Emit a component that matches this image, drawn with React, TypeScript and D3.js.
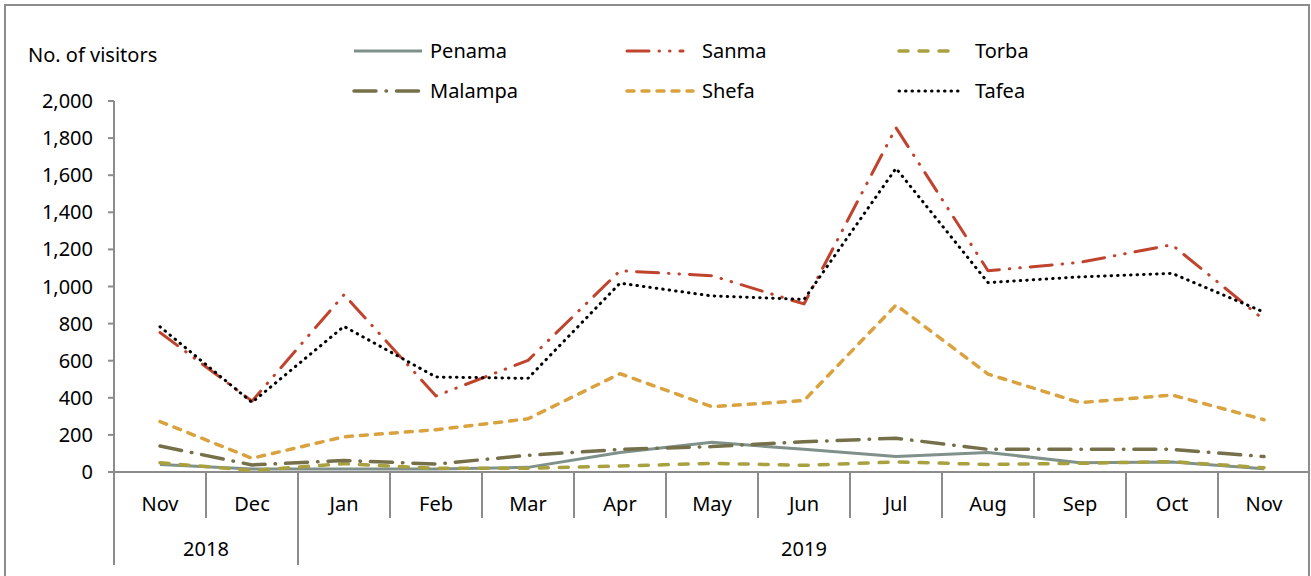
import React from 'react';
import * as d3 from 'd3';

// monthly visitor counts, Nov 2018 .. Nov 2019
const months = ['Nov', 'Dec', 'Jan', 'Feb', 'Mar', 'Apr', 'May', 'Jun', 'Jul', 'Aug', 'Sep', 'Oct', 'Nov'];
const years = [
  { label: '2018', count: 2 },
  { label: '2019', count: 11 },
];
const yTicks = [0, 200, 400, 600, 800, 1000, 1200, 1400, 1600, 1800, 2000];

const penama = [40, 16, 16, 16, 25, 105, 160, 122, 83, 105, 50, 54, 18];
const sanma = [752, 382, 956, 410, 602, 1085, 1058, 906, 1856, 1085, 1130, 1225, 820];
const torba = [50, 8, 45, 20, 20, 32, 47, 36, 54, 41, 47, 56, 23];
const malampa = [140, 38, 62, 43, 90, 122, 137, 163, 182, 122, 122, 122, 83];
const shefa = [272, 74, 190, 228, 287, 530, 352, 385, 900, 528, 374, 415, 282];
const tafea = [783, 375, 785, 512, 505, 1018, 949, 930, 1637, 1021, 1052, 1071, 862];

const series = [
  { name: 'Penama', values: penama, color: '#7f918a', dash: null, width: 3, key: 68 },
  { name: 'Sanma', values: sanma, color: '#c0432e', dash: '22 10 0.5 10 0.5 10', width: 3, key: 56 },
  { name: 'Torba', values: torba, color: '#a9a040', dash: '9 11', width: 3.5, key: 50 },
  { name: 'Malampa', values: malampa, color: '#76704a', dash: '22 10 0.5 10', width: 3.5, key: 68 },
  { name: 'Shefa', values: shefa, color: '#d9a23f', dash: '7 8', width: 3.5, key: 66 },
  { name: 'Tafea', values: tafea, color: '#000000', dash: '0.5 6', width: 3, key: 63 },
];

const W = 1311;
const H = 576;
const left = 114;
const right = 1310;
const top = 101;
const bottom = 472;
const font = '"Noto Sans", "Open Sans", sans-serif';
const axisColor = '#8c8c8c';

export default function App() {
  const x = d3.scaleBand<number>()
    .domain(months.map((_, i) => i))
    .range([left, right])
    .paddingInner(0)
    .paddingOuter(0);
  const y = d3.scaleLinear().domain([0, 2000]).range([bottom, top]);
  const fmt = d3.format(',');
  const bw = x.bandwidth();

  const line = d3.line<number>()
    .x((_, i) => (x(i) as number) + bw / 2)
    .y(d => y(d));

  // year group boundaries
  let acc = 0;
  const groups = years.map(g => {
    const start = acc;
    acc += g.count;
    return { ...g, x0: x(start) as number, x1: (x(start) as number) + g.count * bw };
  });
  const groupEdges = new Set(groups.map(g => g.x0));

  // legend layout (two rows of three)
  const legendCols = [354, 627, 899];
  const legendText = [430, 702, 975];
  const legendRows = [51, 91];

  return (
    <svg width={W} height={H} style={{ position: 'absolute', left: 0, top: 0, background: '#fff' }}>
      <rect x={5} y={5} width={1304} height={600} fill="none" stroke={axisColor} strokeWidth={2} />

      <text x={28} y={62} fontFamily={font} fontSize={20} fill="#000">No. of visitors</text>

      {/* y axis */}
      <line x1={left} x2={left} y1={top} y2={565} stroke={axisColor} strokeWidth={2} />
      {yTicks.map(t => (
        <g key={t}>
          <line x1={left - 6} x2={left} y1={y(t)} y2={y(t)} stroke={axisColor} strokeWidth={2} />
          <text x={93} y={y(t)} dy="0.35em" textAnchor="end" fontFamily={font} fontSize={20} fill="#000">
            {fmt(t)}
          </text>
        </g>
      ))}

      {/* x axis with month / year categories */}
      <line x1={left} x2={right} y1={bottom} y2={bottom} stroke={axisColor} strokeWidth={2} />
      {months.map((m, i) => {
        const bx = x(i) as number;
        return (
          <g key={i}>
            {i > 0 && !groupEdges.has(bx) && (
              <line x1={bx} x2={bx} y1={bottom} y2={518} stroke={axisColor} strokeWidth={2} />
            )}
            <text x={bx + bw / 2} y={504} dy="0.35em" textAnchor="middle" fontFamily={font} fontSize={20} fill="#000">
              {m}
            </text>
          </g>
        );
      })}
      {groups.map(g => (
        <g key={g.label}>
          <line x1={g.x0} x2={g.x0} y1={bottom} y2={565} stroke={axisColor} strokeWidth={2} />
          <text x={(g.x0 + g.x1) / 2} y={549} dy="0.35em" textAnchor="middle" fontFamily={font} fontSize={20} fill="#000">
            {g.label}
          </text>
        </g>
      ))}
      <line x1={right - 1} x2={right - 1} y1={bottom} y2={565} stroke={axisColor} strokeWidth={2} />

      {/* series lines */}
      {series.map(s => (
        <path
          key={s.name}
          d={line(s.values) ?? ''}
          fill="none"
          stroke={s.color}
          strokeWidth={s.width}
          strokeDasharray={s.dash ?? undefined}
          strokeLinecap={s.dash ? 'round' : 'butt'}
          strokeLinejoin="round"
        />
      ))}

      {/* legend */}
      {series.map((s, i) => {
        const lx = legendCols[i % 3];
        const ly = legendRows[Math.floor(i / 3)];
        return (
          <g key={s.name}>
            <line
              x1={lx}
              x2={lx + s.key}
              y1={ly}
              y2={ly}
              stroke={s.color}
              strokeWidth={s.width}
              strokeDasharray={s.dash ?? undefined}
              strokeLinecap={s.dash ? 'round' : 'butt'}
            />
            <text x={legendText[i % 3]} y={ly} dy="0.35em" fontFamily={font} fontSize={20} fill="#000">{s.name}</text>
          </g>
        );
      })}
    </svg>
  );
}
